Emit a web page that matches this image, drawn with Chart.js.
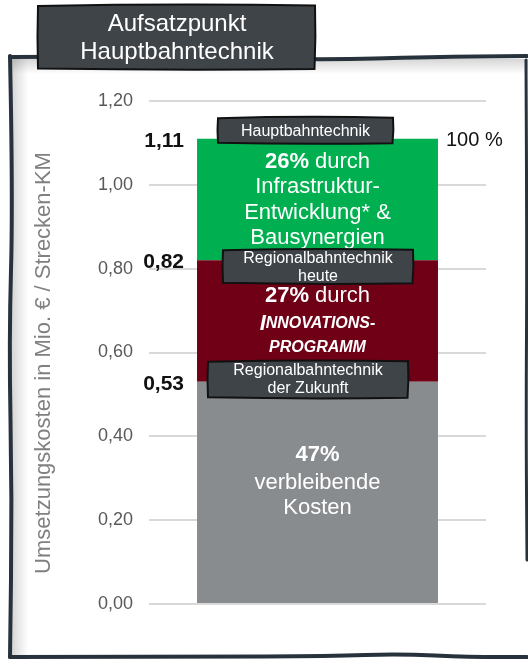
<!DOCTYPE html>
<html>
<head>
<title>Aufsatzpunkt Hauptbahntechnik</title>
<script src="https://cdn.jsdelivr.net/npm/chart.js"></script>
<style>
  html, body { margin: 0; padding: 0; background: #fff; }
</style>
</head>
<body>
<canvas id="costChart" width="528" height="661"></canvas>
<script>
// --- data ---
const categories = ['Hauptbahntechnik'];
const remainingCosts = [0.53];     // grau: verbleibende Kosten
const innovationSavings = [0.29];  // rot: Innovationsprogramm
const infraSavings = [0.29];       // grün: Infrastruktur / Bausynergien
const levelValues = [1.11, 0.82, 0.53];
const levelLabels = ['1,11', '0,82', '0,53'];
const yTicks = [0, 0.2, 0.4, 0.6, 0.8, 1.0, 1.2];
const yTickLabels = ['0,00', '0,20', '0,40', '0,60', '0,80', '1,00', '1,20'];

const FONT = '"Liberation Sans", Arial, sans-serif';

function wobblyLine(ctx, pts) {
  ctx.beginPath();
  ctx.moveTo(pts[0][0], pts[0][1]);
  for (let i = 1; i < pts.length - 1; i++) {
    const mx = (pts[i][0] + pts[i + 1][0]) / 2, my = (pts[i][1] + pts[i + 1][1]) / 2;
    ctx.quadraticCurveTo(pts[i][0], pts[i][1], mx, my);
  }
  const last = pts[pts.length - 1];
  ctx.lineTo(last[0], last[1]);
  ctx.stroke();
}

function sketchBox(ctx, x, y, w, h) {
  ctx.save();
  ctx.beginPath();
  ctx.moveTo(x, y + 1);
  ctx.quadraticCurveTo(x + w * 0.5, y - 1.5, x + w, y + 0.5);
  ctx.quadraticCurveTo(x + w + 1, y + h / 2, x + w - 0.5, y + h);
  ctx.quadraticCurveTo(x + w * 0.5, y + h + 1.5, x, y + h - 0.5);
  ctx.quadraticCurveTo(x - 1, y + h / 2, x, y + 1);
  ctx.closePath();
  ctx.fillStyle = '#3f4448';
  ctx.fill();
  ctx.lineWidth = 2;
  ctx.strokeStyle = '#111';
  ctx.stroke();
  ctx.restore();
}

// draws pieces of text with different fonts, centered on cx
function richLine(ctx, parts, cx, y, color) {
  ctx.save();
  ctx.textBaseline = 'middle';
  ctx.textAlign = 'left';
  ctx.fillStyle = color;
  let total = 0;
  parts.forEach(p => { ctx.font = p.font; p.w = ctx.measureText(p.text).width; total += p.w; });
  let x = cx - total / 2;
  parts.forEach(p => { ctx.font = p.font; ctx.fillText(p.text, x, y); x += p.w; });
  ctx.restore();
}

const framePlugin = {
  id: 'frame',
  beforeDraw(chart) {
    const ctx = chart.ctx;
    ctx.save();
    ctx.fillStyle = '#fff';
    ctx.fillRect(0, 0, chart.width, chart.height);

    // soft inner shadow along top and left edge
    let g = ctx.createLinearGradient(12, 0, 28, 0);
    g.addColorStop(0, 'rgba(0,0,0,0.16)');
    g.addColorStop(1, 'rgba(0,0,0,0)');
    ctx.fillStyle = g;
    ctx.fillRect(12, 58, 16, 597);
    g = ctx.createLinearGradient(0, 59, 0, 74);
    g.addColorStop(0, 'rgba(0,0,0,0.16)');
    g.addColorStop(1, 'rgba(0,0,0,0)');
    ctx.fillStyle = g;
    ctx.fillRect(12, 59, 516, 15);

    // hand drawn frame
    ctx.strokeStyle = '#28323c';
    ctx.lineWidth = 4;
    ctx.lineCap = 'round';
    wobblyLine(ctx, [[10, 57], [120, 56], [320, 60], [430, 57], [527, 56]]);
    wobblyLine(ctx, [[10, 56], [13, 200], [9, 340], [12, 500], [10, 657]]);
    wobblyLine(ctx, [[10, 657], [200, 657], [330, 656], [400, 654], [470, 657], [527, 657]]);
    ctx.lineWidth = 3;
    wobblyLine(ctx, [[526, 60], [527, 250], [526, 420], [527, 560]]);

    // title box
    sketchBox(ctx, 38, 5, 277, 64);
    ctx.fillStyle = '#fff';
    ctx.font = '24px ' + FONT;
    ctx.textAlign = 'center';
    ctx.textBaseline = 'middle';
    ctx.fillText('Aufsatzpunkt', 177, 24);
    ctx.fillText('Hauptbahntechnik', 177, 52);

    // y axis title
    ctx.save();
    ctx.translate(44, 363);
    ctx.rotate(-Math.PI / 2);
    ctx.fillStyle = '#808080';
    ctx.font = '22px ' + FONT;
    ctx.fillText('Umsetzungskosten in Mio. € / Strecken-KM', 0, 0);
    ctx.restore();
    ctx.restore();
  },
  afterDatasetsDraw(chart) {
    const ctx = chart.ctx;
    const y = chart.scales.y;
    const bar = chart.getDatasetMeta(0).data[0];
    const cx = bar.x;
    const half = bar.width / 2;

    // level values left of the bar
    ctx.save();
    ctx.fillStyle = '#111';
    ctx.font = 'bold 21px ' + FONT;
    ctx.textAlign = 'right';
    ctx.textBaseline = 'middle';
    levelValues.forEach((v, i) => {
      ctx.fillText(levelLabels[i], cx - half - 13, y.getPixelForValue(v) + 2);
    });
    ctx.font = '20px ' + FONT;
    ctx.textAlign = 'left';
    ctx.fillText('100 %', cx + half + 8, y.getPixelForValue(levelValues[0]) + 2);
    ctx.restore();

    const R = '22px ' + FONT, B = 'bold 22px ' + FONT;
    const SC = 'italic bold 16px ' + FONT, SCbig = 'italic bold 22px ' + FONT;

    // green segment
    const gMid = (y.getPixelForValue(levelValues[0]) + y.getPixelForValue(levelValues[1])) / 2;
    richLine(ctx, [{ text: '26%', font: B }, { text: ' durch', font: R }], cx, gMid - 38, '#fff');
    richLine(ctx, [{ text: 'Infrastruktur-', font: R }], cx, gMid - 12.5, '#fff');
    richLine(ctx, [{ text: 'Entwicklung* &', font: R }], cx, gMid + 13, '#fff');
    richLine(ctx, [{ text: 'Bausynergien', font: R }], cx, gMid + 38.5, '#fff');

    // red segment
    const rMid = (y.getPixelForValue(levelValues[1]) + y.getPixelForValue(levelValues[2])) / 2;
    richLine(ctx, [{ text: '27%', font: B }, { text: ' durch', font: R }], cx, rMid - 25.5, '#fff');
    richLine(ctx, [{ text: 'I', font: SCbig }, { text: 'NNOVATIONS-', font: SC }], cx, rMid + 2.5, '#fff');
    richLine(ctx, [{ text: 'PROGRAMM', font: SC }], cx, rMid + 27, '#fff');

    // grey segment
    const sMid = (y.getPixelForValue(levelValues[2]) + y.getPixelForValue(0)) / 2;
    richLine(ctx, [{ text: '47%', font: B }], cx, sMid - 37.5, '#fff');
    richLine(ctx, [{ text: 'verbleibende', font: R }], cx, sMid - 10, '#fff');
    richLine(ctx, [{ text: 'Kosten', font: R }], cx, sMid + 15.5, '#fff');

    // dark label boxes on the level boundaries
    const S = '16px ' + FONT;
    let top = y.getPixelForValue(levelValues[0]);
    sketchBox(ctx, cx - 99.5, top - 21.5, 175, 26);
    richLine(ctx, [{ text: 'Hauptbahntechnik', font: S }], cx - 12, top - 7.5, '#fff');

    top = y.getPixelForValue(levelValues[1]);
    sketchBox(ctx, cx - 94.5, top - 11, 190, 34);
    richLine(ctx, [{ text: 'Regionalbahntechnik', font: S }], cx + 0.5, top - 2, '#fff');
    richLine(ctx, [{ text: 'heute', font: S }], cx + 0.5, top + 16, '#fff');

    top = y.getPixelForValue(levelValues[2]);
    sketchBox(ctx, cx - 109.5, top - 21, 200, 37);
    richLine(ctx, [{ text: 'Regionalbahntechnik', font: S }], cx - 9.5, top - 11, '#fff');
    richLine(ctx, [{ text: 'der Zukunft', font: S }], cx - 9.5, top + 7, '#fff');
  }
};

new Chart(document.getElementById('costChart').getContext('2d'), {
  type: 'bar',
  data: {
    labels: categories,
    datasets: [
      { label: 'verbleibende Kosten', data: remainingCosts, backgroundColor: '#898c8f' },
      { label: 'Innovationsprogramm', data: innovationSavings, backgroundColor: '#6f0016' },
      { label: 'Infrastruktur-Entwicklung & Bausynergien', data: infraSavings, backgroundColor: '#00b050' }
    ]
  },
  options: {
    responsive: false,
    animation: false,
    layout: { padding: { left: 0, right: 42, top: 101, bottom: 57 } },
    datasets: { bar: { barPercentage: 0.715, categoryPercentage: 1, borderWidth: 0 } },
    plugins: { legend: { display: false }, tooltip: { enabled: false } },
    scales: {
      x: { stacked: true, display: false },
      y: {
        stacked: true,
        min: 0,
        max: 1.2,
        afterBuildTicks: s => { s.ticks = yTicks.map(v => ({ value: v })); },
        afterFit: s => { s.width = 149; },
        ticks: {
          padding: 16,
          color: '#595959',
          font: { family: FONT, size: 18 },
          callback: (v, i) => yTickLabels[i]
        },
        grid: { color: '#d9d9d9', lineWidth: 2, drawTicks: false },
        border: { display: false }
      }
    }
  },
  plugins: [framePlugin]
});
</script>
</body>
</html>
